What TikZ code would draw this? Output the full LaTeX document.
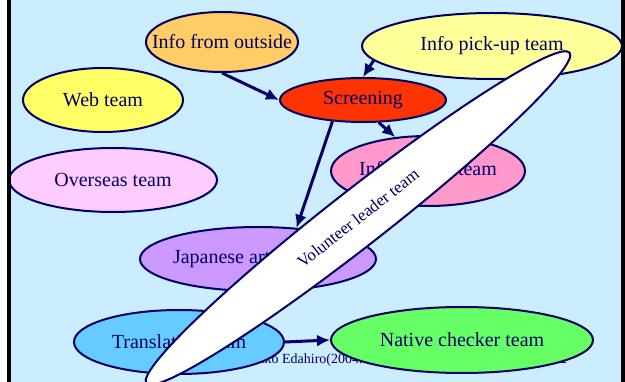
\documentclass[tikz,border=0pt]{standalone}
\usepackage{fontspec}
\setmainfont{Liberation Serif}
\usetikzlibrary{shapes.geometric,arrows.meta}
\definecolor{slidebg}{RGB}{204,236,255}
\definecolor{navyline}{RGB}{0,0,102}
\definecolor{outsideorange}{RGB}{255,204,102}
\definecolor{pickupyellow}{RGB}{255,255,153}
\definecolor{webyellow}{RGB}{255,255,102}
\definecolor{screenred}{RGB}{255,51,0}
\definecolor{overseaspink}{RGB}{255,204,255}
\definecolor{sortpink}{RGB}{255,153,204}
\definecolor{japanviolet}{RGB}{204,153,255}
\definecolor{translblue}{RGB}{102,204,255}
\definecolor{nativegreen}{RGB}{102,255,102}
\tikzset{
  team/.style={ellipse, draw=navyline, line width=2pt, inner sep=0pt,
    label={[text=navyline, font=\fontsize{20}{24}\selectfont]center:#1}},
  flow/.style={-{Latex[length=13pt,width=12pt]}, line width=3pt, draw=navyline}
}

\begin{document}
\begin{tikzpicture}[x=1pt, y=-1pt]
    \useasboundingbox (0,0) rectangle (625,382);
    \fill[slidebg] (11,0) rectangle (621,382);

    % footer
    \node[anchor=base west, inner sep=0pt, text=navyline, font=\fontsize{14}{16}\selectfont] (foot) at (245,364) {Junko Edahiro(2004.};
    \node[anchor=base east, inner sep=0pt, text=navyline, font=\fontsize{14}{16}\selectfont] (page) at (567,364) {22};

    \node[team={Info from outside}, fill=outsideorange, minimum width=152pt, minimum height=60pt] (outside) at (222,42) {};
    \node[team={Info pick-up team}, fill=pickupyellow, minimum width=260pt, minimum height=66pt] (pickup) at (492,46) {};
    \node[team={Web team}, fill=webyellow, minimum width=160pt, minimum height=64pt] (web) at (103,100) {};
    \node[team={Screening}, fill=screenred, minimum width=166pt, minimum height=44pt] (screen) at (363,100) {};
    \node[team={Overseas team}, fill=overseaspink, minimum width=208pt, minimum height=64pt] (overseas) at (113,180) {};
    \node[team={Info sorting team}, fill=sortpink, minimum width=194pt, minimum height=70pt] (sorting) at (428,171) {};
    \node[team={Japanese article team}, fill=japanviolet, minimum width=236pt, minimum height=64pt] (japan) at (258,259) {};
    \node[team={Translation team}, fill=translblue, minimum width=210pt, minimum height=64pt] (transl) at (179,342) {};
    \node[team={Native checker team}, fill=nativegreen, minimum width=262pt, minimum height=66pt] (native) at (462,340) {};

    % Flow of information
    \draw[flow] (outside.south) -- (screen.west);
    \draw[flow] (pickup.187) -- (screen.north);
    \draw[flow] (screen.215) -- (japan.39);
    \draw[flow] (screen.-55) -- (sorting.134);
    \draw[flow] (transl.east) -- (native.west);

    \node[ellipse, draw=navyline, line width=2pt, fill=white, inner sep=0pt, rotate=38,
          minimum width=537pt, minimum height=56pt, text=navyline,
          font=\fontsize{17}{20}\selectfont] (leader) at (358,218) {Volunteer leader team};

    \fill[black] (7,0) rectangle (11,382);
    \fill[black] (621,0) rectangle (625,382);
\end{tikzpicture}
\end{document}
